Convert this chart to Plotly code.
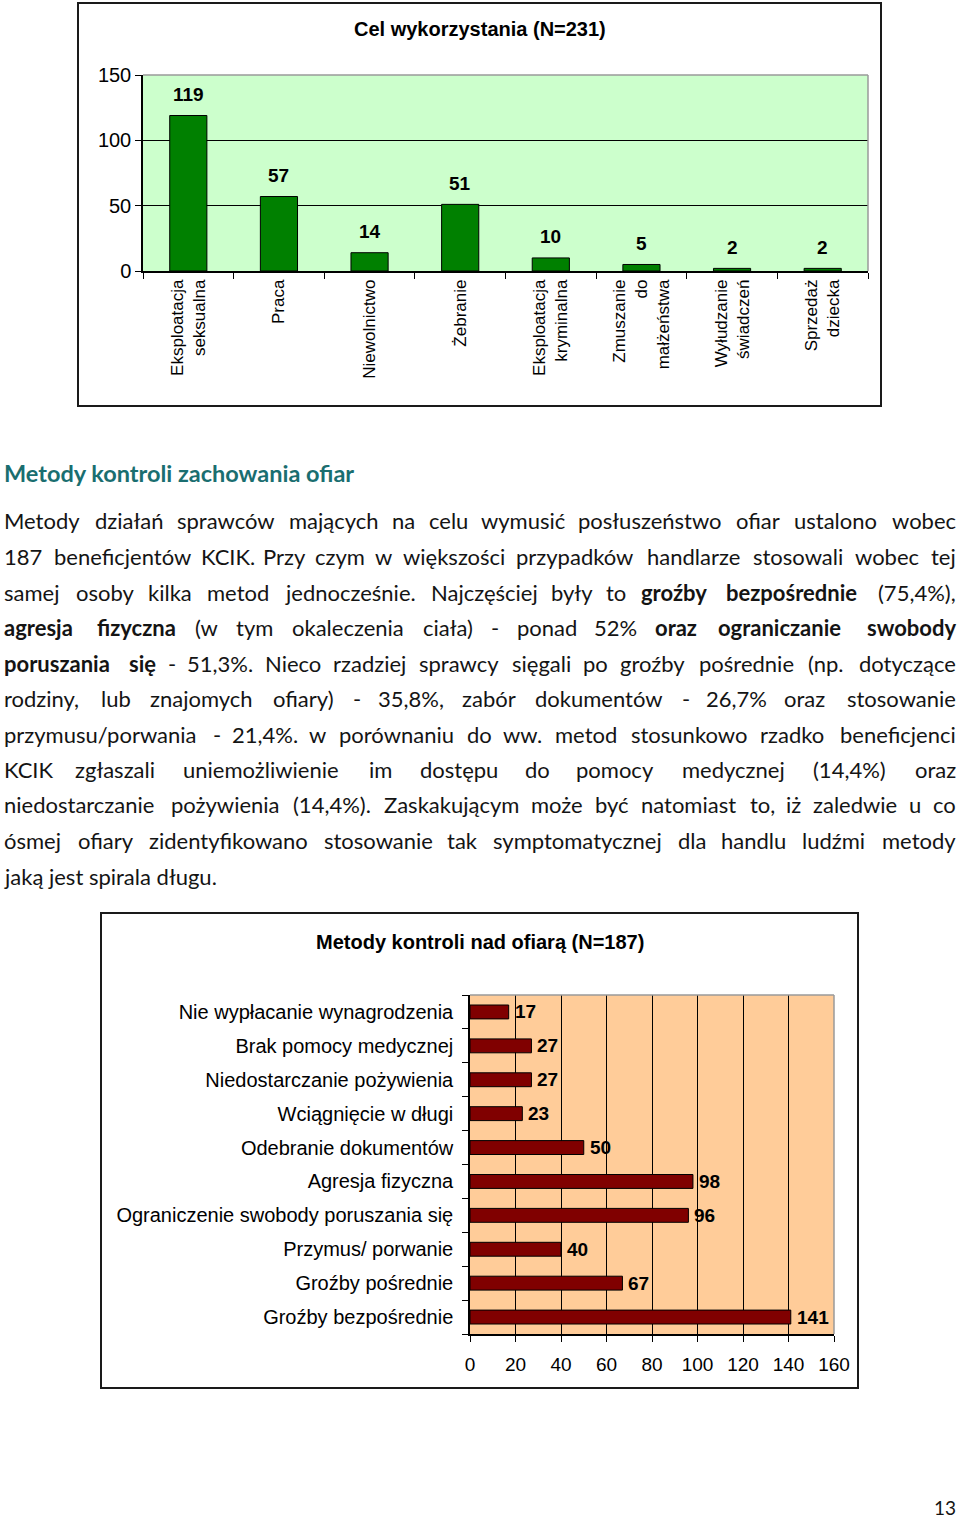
import plotly.graph_objects as go

W, H = 960, 1520

# ---------------- data ----------------
purpose_labels = ["Eksploatacja<br>seksualna", "Praca", "Niewolnictwo", "Żebranie",
                  "Eksploatacja<br>kryminalna", "Zmuszanie<br>do<br>małżeństwa",
                  "Wyłudzanie<br>świadczeń", "Sprzedaż<br>dziecka"]
purpose_values = [119, 57, 14, 51, 10, 5, 2, 2]
purpose_ticks = [0, 50, 100, 150]

control_labels = ["Groźby bezpośrednie", "Groźby pośrednie", "Przymus/ porwanie",
                  "Ograniczenie swobody poruszania się", "Agresja fizyczna",
                  "Odebranie dokumentów", "Wciągnięcie w długi",
                  "Niedostarczanie pożywienia", "Brak pomocy medycznej",
                  "Nie wypłacanie wynagrodzenia"]
control_values = [141, 67, 40, 96, 98, 50, 23, 27, 27, 17]
control_ticks = [0, 20, 40, 60, 80, 100, 120, 140, 160]

title1 = "Cel wykorzystania (N=231)"
title2 = "Metody kontroli nad ofiarą (N=187)"
heading = "Metody kontroli zachowania ofiar"
body_lines = [
    "Metody działań sprawców mających na celu wymusić posłuszeństwo ofiar ustalono wobec",
    "187 beneficjentów KCIK. Przy czym w większości przypadków handlarze stosowali wobec tej",
    "samej osoby kilka metod jednocześnie. Najczęściej były to *groźby *bezpośrednie (75,4%),",
    "*agresja *fizyczna (w tym okaleczenia ciała) - ponad 52% *oraz *ograniczanie *swobody",
    "*poruszania *się - 51,3%. Nieco rzadziej sprawcy sięgali po groźby pośrednie (np. dotyczące",
    "rodziny, lub znajomych ofiary) - 35,8%, zabór dokumentów - 26,7% oraz stosowanie",
    "przymusu/porwania - 21,4%. w porównaniu do ww. metod stosunkowo rzadko beneficjenci",
    "KCIK zgłaszali uniemożliwienie im dostępu do pomocy medycznej (14,4%) oraz",
    "niedostarczanie pożywienia (14,4%). Zaskakującym może być natomiast to, iż zaledwie u co",
    "ósmej ofiary zidentyfikowano stosowanie tak symptomatycznej dla handlu ludźmi metody",
]
last_line = "jaką jest spirala długu."
page_number = "13"

# ---------------- helpers ----------------
def px(x):
    return x / W

def py(y):
    return 1 - y / H

CAL = {
    'a': 479, 'b': 525, 'c': 423, 'd': 525, 'e': 498, 'f': 305, 'g': 471, 'h': 525,
    'i': 229, 'j': 239, 'k': 455, 'l': 229, 'm': 799, 'n': 525, 'o': 527, 'p': 525,
    'q': 525, 'r': 349, 's': 391, 't': 335, 'u': 525, 'v': 452, 'w': 715, 'x': 433,
    'y': 453, 'z': 395, 'ą': 479, 'ę': 498, 'ł': 240, 'ń': 525, 'ó': 527, 'ś': 391,
    'ć': 423, 'ź': 395, 'ż': 395,
    'A': 579, 'B': 544, 'C': 533, 'D': 615, 'E': 488, 'F': 459, 'G': 631, 'H': 623,
    'I': 252, 'J': 319, 'K': 520, 'L': 420, 'M': 855, 'N': 646, 'O': 662, 'P': 517,
    'R': 543, 'S': 459, 'T': 487, 'U': 642, 'W': 890, 'Z': 468,
    ',': 250, '.': 252, '-': 306, '%': 715, '(': 303, ')': 303, '/': 386,
}
for d in "0123456789":
    CAL[d] = 507

BODY_FONT = "Lato"
BODY_SIZE = 22
EST_SIZE = BODY_SIZE * 1.1

def word_w(word, bold):
    s = sum(CAL.get(ch, 500) for ch in word) * EST_SIZE / 1000.0
    return s * (1.05 if bold else 1.0)

LEFT, RIGHT = 5, 955
LINE_Y0, LINE_DY = 521, 35.5
TXT = "#141414"

annotations = []

# heading
annotations.append(dict(x=px(LEFT), y=py(473), xref="paper", yref="paper", xshift=-3,
                        text="<b>" + heading + "</b>", showarrow=False,
                        xanchor="left", yanchor="middle",
                        font=dict(family=BODY_FONT, size=23.5, color="#1a6e70")))

# justified body lines, word by word
for li, line in enumerate(body_lines):
    y = LINE_Y0 + li * LINE_DY
    toks = []
    for t in line.split(" "):
        bold = t.startswith("*")
        toks.append((t.lstrip("*"), bold))
    widths = [word_w(t, b) for t, b in toks]
    n = len(toks)
    gap = (RIGHT - LEFT - sum(widths)) / (n - 1)
    xpos = LEFT
    for i, ((t, b), w) in enumerate(zip(toks, widths)):
        txt = "<b>" + t + "</b>" if b else t
        shift = 0
        if i == 0:
            xa, xx, shift = "left", LEFT, -3
        elif i == n - 1:
            xa, xx, shift = "right", RIGHT, 3
        else:
            xa, xx = "center", xpos + w / 2
        annotations.append(dict(x=px(xx), y=py(y), xref="paper", yref="paper", xshift=shift,
                                text=txt, showarrow=False, xanchor=xa, yanchor="middle",
                                font=dict(family=BODY_FONT, size=BODY_SIZE, color=TXT)))
        xpos += w + gap

annotations.append(dict(x=px(LEFT), y=py(LINE_Y0 + len(body_lines) * LINE_DY),
                        xref="paper", yref="paper", xshift=-3, text=last_line, showarrow=False,
                        xanchor="left", yanchor="middle",
                        font=dict(family=BODY_FONT, size=BODY_SIZE, color=TXT)))

annotations.append(dict(x=px(945), y=py(1507), xref="paper", yref="paper",
                        text=page_number, showarrow=False, xanchor="center", yanchor="middle",
                        font=dict(family=BODY_FONT, size=19, color=TXT)))

CHART_FONT = "Liberation Sans"

# chart titles
annotations.append(dict(x=px(480), y=py(29), xref="paper", yref="paper",
                        text="<b>" + title1 + "</b>", showarrow=False,
                        xanchor="center", yanchor="middle",
                        font=dict(family=CHART_FONT, size=20, color="black")))
annotations.append(dict(x=px(480), y=py(942), xref="paper", yref="paper",
                        text="<b>" + title2 + "</b>", showarrow=False,
                        xanchor="center", yanchor="middle",
                        font=dict(family=CHART_FONT, size=20, color="black")))

# value labels
for c, v in zip(purpose_labels, purpose_values):
    annotations.append(dict(x=c, y=v, xref="x", yref="y", text="<b>%d</b>" % v,
                            showarrow=False, xanchor="center", yanchor="middle", yshift=21,
                            font=dict(family=CHART_FONT, size=19, color="black")))
for c, v in zip(control_labels, control_values):
    annotations.append(dict(x=v, y=c, xref="x2", yref="y2", text="<b>%d</b>" % v,
                            showarrow=False, xanchor="left", yanchor="middle", xshift=4,
                            font=dict(family=CHART_FONT, size=19, color="black")))

# ---------------- figure ----------------
fig = go.Figure()
fig.add_trace(go.Bar(x=purpose_labels, y=purpose_values, xaxis="x", yaxis="y",
                     marker=dict(color="#008000", line=dict(color="black", width=1)),
                     hoverinfo="skip"))
fig.add_trace(go.Bar(x=control_values, y=control_labels, orientation="h",
                     xaxis="x2", yaxis="y2",
                     marker=dict(color="#800000", line=dict(color="black", width=1)),
                     hoverinfo="skip"))

# chart geometry (pixels)
T1 = dict(l=143, r=868, t=75, b=271)
T2 = dict(l=470, r=834, t=995, b=1334)

shapes = [
    # outer frames
    dict(type="rect", xref="paper", yref="paper", x0=px(78), x1=px(881), y0=py(406), y1=py(3),
         line=dict(color="#1a1a1a", width=2), fillcolor="rgba(0,0,0,0)", layer="below"),
    dict(type="rect", xref="paper", yref="paper", x0=px(101), x1=px(858), y0=py(1388), y1=py(913),
         line=dict(color="#1a1a1a", width=2), fillcolor="rgba(0,0,0,0)", layer="below"),
    # plot backgrounds
    dict(type="rect", xref="x domain", yref="y domain", x0=0, x1=1, y0=0, y1=1,
         fillcolor="#ccffcc", line=dict(width=0), layer="below"),
    dict(type="rect", xref="x2 domain", yref="y2 domain", x0=0, x1=1, y0=0, y1=1,
         fillcolor="#ffcc99", line=dict(width=0), layer="below"),
    # grey top/right plot borders
    dict(type="line", xref="x domain", yref="y domain", x0=0, x1=1, y0=1, y1=1,
         line=dict(color="#9a9a9a", width=1.5), layer="above"),
    dict(type="line", xref="x domain", yref="y domain", x0=1, x1=1, y0=0, y1=1,
         line=dict(color="#9a9a9a", width=1.5), layer="above"),
    dict(type="line", xref="x2 domain", yref="y2 domain", x0=0, x1=1, y0=1, y1=1,
         line=dict(color="#9a9a9a", width=1.5), layer="above"),
    dict(type="line", xref="x2 domain", yref="y2 domain", x0=1, x1=1, y0=0, y1=1,
         line=dict(color="#9a9a9a", width=1.5), layer="above"),
]

fig.update_layout(
    width=W, height=H,
    margin=dict(l=0, r=0, t=0, b=0),
    paper_bgcolor="white", plot_bgcolor="rgba(0,0,0,0)",
    showlegend=False, bargap=0.59,
    font=dict(family=CHART_FONT, color="black"),
    xaxis=dict(domain=[px(T1["l"]), px(T1["r"])], anchor="y", type="category",
               tickson="boundaries", ticks="outside", ticklen=6, tickcolor="black",
               tickangle=-90, tickfont=dict(size=17, family=CHART_FONT, color="black"),
               showline=True, linecolor="black", linewidth=1.5, showgrid=False,
               automargin=False, fixedrange=True),
    yaxis=dict(domain=[py(T1["b"]), py(T1["t"])], anchor="x", range=[0, 150],
               tickvals=purpose_ticks, ticks="outside", ticklen=6, tickcolor="black",
               tickfont=dict(size=20, family=CHART_FONT, color="black"),
               showline=True, linecolor="black", linewidth=1.5,
               showgrid=True, gridcolor="black", gridwidth=1, zeroline=False,
               automargin=False, fixedrange=True),
    xaxis2=dict(domain=[px(T2["l"]), px(T2["r"])], anchor="y2", range=[0, 160],
                tickvals=control_ticks, ticks="outside", ticklen=6, tickcolor="black",
                tickfont=dict(size=19, family=CHART_FONT, color="black"),
                ticklabelstandoff=6,
                showline=True, linecolor="black", linewidth=1.5,
                showgrid=True, gridcolor="black", gridwidth=1, zeroline=False,
                automargin=False, fixedrange=True),
    yaxis2=dict(domain=[py(T2["b"]), py(T2["t"])], anchor="x2", type="category",
                tickson="boundaries", ticks="outside", ticklen=6, tickcolor="black",
                tickfont=dict(size=20, family=CHART_FONT, color="black"),
                ticklabelstandoff=11,
                showline=True, linecolor="black", linewidth=1.5, showgrid=False,
                automargin=False, fixedrange=True),
    shapes=shapes,
    annotations=annotations,
)

fig.write_html("out.html", config={"displayModeBar": False},
               post_script="document.body.style.margin='0';document.body.style.overflow='hidden';")
